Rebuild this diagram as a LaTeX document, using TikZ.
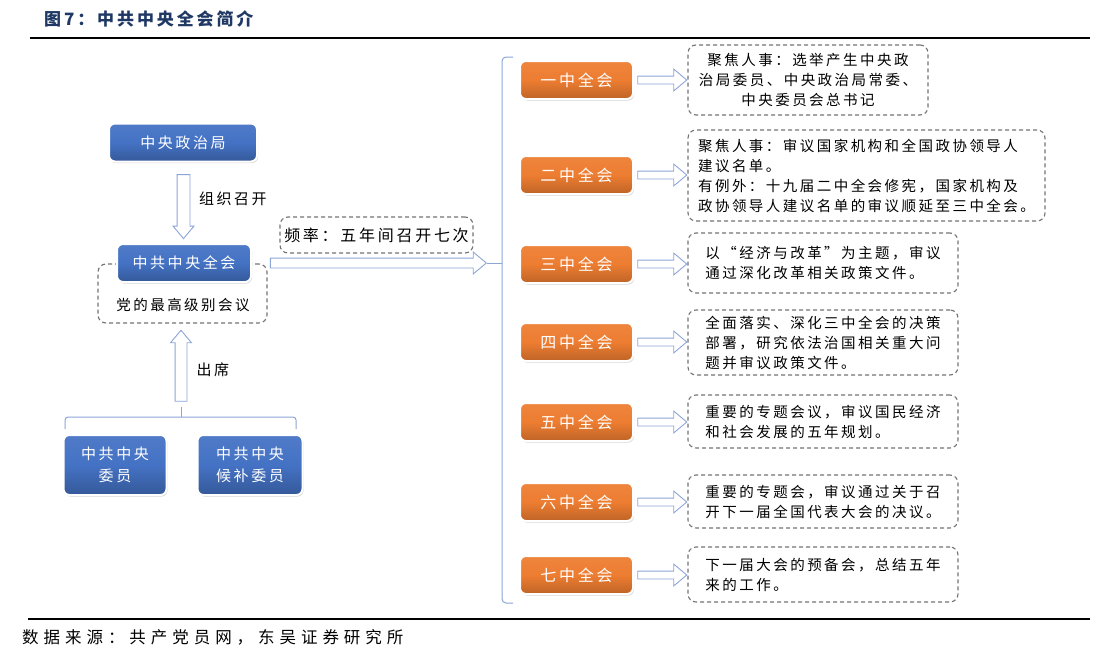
\documentclass[tikz,border=0pt]{standalone}
\usepackage{fontspec}
\usetikzlibrary{shapes.arrows, shadows, positioning, calc}
\setmainfont{Noto Sans CJK SC}
\newfontfamily\zh[LetterSpace=17]{Noto Sans CJK SC}
\newfontfamily\zhw[LetterSpace=30]{Noto Sans CJK SC}
\definecolor{ZYBlue}{RGB}{68, 114, 196}
\definecolor{ZYOrange}{RGB}{237, 125, 49}
\definecolor{ZYNavy}{RGB}{31, 56, 100}
\definecolor{ZYLine}{RGB}{140, 165, 215}
\definecolor{ZYGray}{RGB}{115, 115, 115}

\begin{document}
\begin{tikzpicture}[x=1pt, y=-1pt, font=\zh,
	bk/.style={rectangle, rounded corners=6pt, draw=white, line width=2pt,
		top color=ZYBlue!94!white, bottom color=ZYBlue!78!black, middle color=ZYBlue,
		text=white, align=center, font=\zh\fontsize{15}{22}\selectfont,
		drop shadow={shadow xshift=1pt, shadow yshift=-1.5pt, opacity=0.35}},
	ok/.style={bk, top color=ZYOrange!94!white, bottom color=ZYOrange!80!black,
		middle color=ZYOrange, minimum width=113pt, minimum height=38pt,
		font=\zh\fontsize{16}{20}\selectfont},
	nt/.style={rectangle, rounded corners=8pt, draw=ZYGray, line width=1.1pt,
		dash pattern=on 4pt off 3pt, align=left, font=\zh\fontsize{14.5}{20}\selectfont},
	ha/.style={single arrow, draw=ZYLine, fill=white, line width=0.9pt, inner xsep=0pt,
		inner ysep=3.5pt, single arrow head extend=7pt, single arrow head indent=0pt,
		single arrow tip angle=80},
	lb/.style={font=\zh\fontsize{15}{18}\selectfont}]
	\useasboundingbox (0,0) rectangle (1100,653);

	\node[anchor=west, inner sep=0pt, text=ZYNavy,
		font=\zh\bfseries\fontsize{17}{20}\selectfont] (tt) at (44,19) {图7：中共中央全会简介};
	\draw[line width=2pt] (30,38) -- (1090,38);
	\draw[line width=2pt] (28,619) -- (1090,619);
	\node[anchor=west, inner sep=0pt, font=\zhw\fontsize{16.5}{20}\selectfont] (src) at (22,637)
		{数据来源：共产党员网，东吴证券研究所};

	\node[bk, minimum width=148pt, minimum height=38pt] (zzj) at (183,142.5) {中央政治局};
	\node[nt, minimum width=169pt, minimum height=59pt] (dq) at (182.5,293.5) {};
	\node[font=\zh\fontsize{14.5}{18}\selectfont] (dj) at (183,305) {党的最高级别会议};
	\node[bk, minimum width=134pt, minimum height=38pt] (qh) at (184,263) {中共中央全会};
	\node[ha, rotate=-90, inner ysep=6pt, single arrow head extend=4pt, minimum height=64pt]
		(a1) at ($(zzj.south)!0.5!(qh.north)$) {};
	\node[lb, anchor=west] (zk) at ($(a1.center)+(12,-4)$) {组织召开};
	\node[nt, minimum width=193pt, minimum height=36pt, font=\zh\fontsize{16}{20}\selectfont]
		(pl) at (376.5,235) {频率：五年间召开七次};

	\coordinate (bt) at (513,57);
	\coordinate (bb) at (513,603);
	\coordinate (bm) at (502,263);
	\coordinate (tk) at (487,263);
	\draw[ZYLine, line width=1pt, rounded corners=4pt] (bt) -- (502,57) -- (502,603) -- (bb);
	\draw[ZYLine, line width=1pt] (bm) -- (tk);
	\node[ha, inner ysep=4.5pt, single arrow head extend=6pt, minimum height=216pt, anchor=tip]
		(a0) at (tk) {};

	\node[ok] (o1) at (576.5,80) {一中全会};
	\node[ok] (o2) at (576.5,175) {二中全会};
	\node[ok] (o3) at (576.5,264) {三中全会};
	\node[ok] (o4) at (576.5,342) {四中全会};
	\node[ok] (o5) at (576.5,422) {五中全会};
	\node[ok] (o6) at (576.5,502) {六中全会};
	\node[ok] (o7) at (576.5,575) {七中全会};

	\node[nt, align=center, minimum width=240pt, minimum height=70pt] (n1) at (808,80)
		{聚焦人事：选举产生中央政\\治局委员、中央政治局常委、\\中央委员会总书记};
	\node[nt, minimum width=357pt, minimum height=91pt] (n2) at (866.5,175.5)
		{聚焦人事：审议国家机构和全国政协领导人\\建议名单。\\有例外：十九届二中全会修宪，国家机构及\\政协领导人建议名单的审议顺延至三中全会。};
	\node[nt, minimum width=270pt, minimum height=60pt] (n3) at (823,263)
		{以“经济与改革”为主题，审议\\通过深化改革相关政策文件。};
	\node[nt, minimum width=270pt, minimum height=65pt] (n4) at (823,342.5)
		{全面落实、深化三中全会的决策\\部署，研究依法治国相关重大问\\题并审议政策文件。};
	\node[nt, minimum width=270pt, minimum height=53pt] (n5) at (823,421.5)
		{重要的专题会议，审议国民经济\\和社会发展的五年规划。};
	\node[nt, minimum width=270pt, minimum height=53pt] (n6) at (823,501.5)
		{重要的专题会，审议通过关于召\\开下一届全国代表大会的决议。};
	\node[nt, minimum width=270pt, minimum height=55pt] (n7) at (823,574.5)
		{下一届大会的预备会，总结五年\\来的工作。};

	\node[ha, minimum height=49pt, anchor=tip] (h1) at (n1.west |- o1) {};
	\node[ha, minimum height=49pt, anchor=tip] (h2) at (n2.west |- o2) {};
	\node[ha, minimum height=49pt, anchor=tip] (h3) at (n3.west |- o3) {};
	\node[ha, minimum height=49pt, anchor=tip] (h4) at (n4.west |- o4) {};
	\node[ha, minimum height=49pt, anchor=tip] (h5) at (n5.west |- o5) {};
	\node[ha, minimum height=49pt, anchor=tip] (h6) at (n6.west |- o6) {};
	\node[ha, minimum height=49pt, anchor=tip] (h7) at (n7.west |- o7) {};

	\node[bk, minimum width=103pt, minimum height=60pt] (wy) at (115,465) {中共中央\\委员};
	\node[bk, minimum width=105pt, minimum height=60pt] (hb) at (250,465) {中共中央\\候补委员};
	\coordinate (kl) at (65,429);
	\coordinate (kr) at (296,429);
	\coordinate (km) at (181,407);
	\draw[ZYLine, line width=1pt, rounded corners=3pt] (kl) -- (65,417) -- (296,417) -- (kr);
	\draw[ZYLine, line width=1pt] (181,417) -- (km);
	\node[ha, rotate=90, inner ysep=5.5pt, single arrow head extend=4.5pt, minimum height=71pt,
		anchor=tip] (a2) at ($(dq.south)+(-1.5,6)$) {};
	\node[lb, anchor=west] (cx) at ($(a2.center)+(12,0)$) {出席};
\end{tikzpicture}
\end{document}
